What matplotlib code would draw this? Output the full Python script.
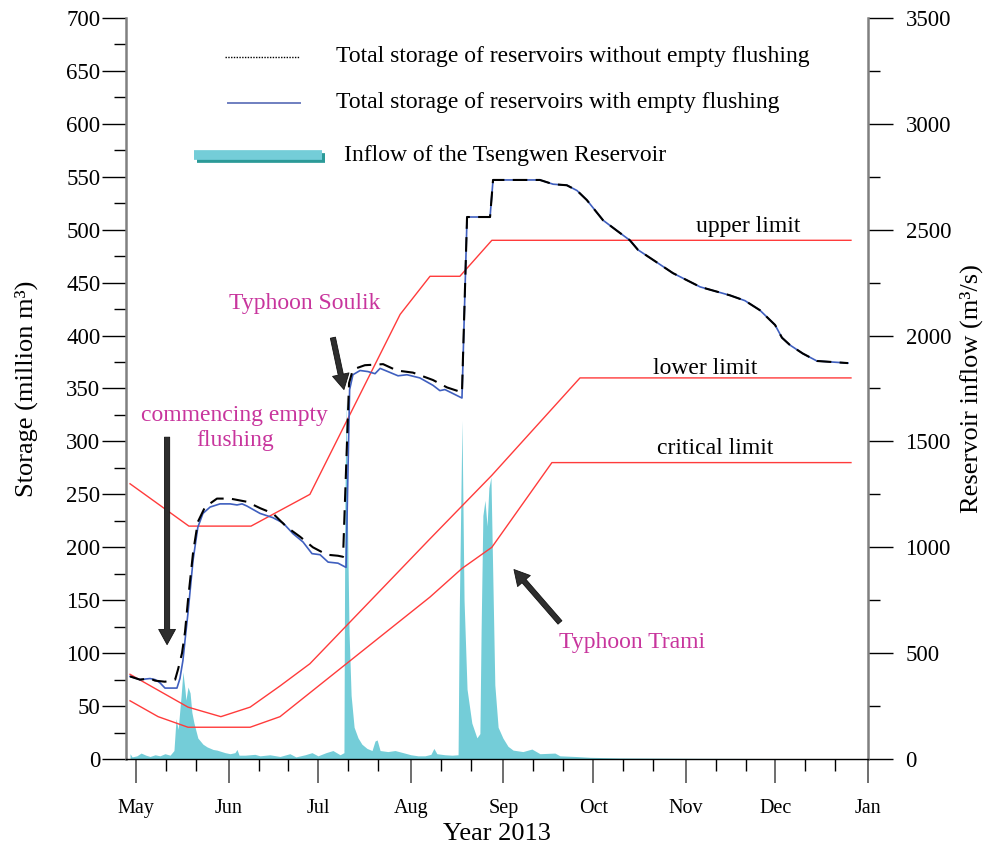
import matplotlib.pyplot as plt
from matplotlib.ticker import MultipleLocator, FixedLocator

plt.rcParams['font.family'] = 'Liberation Serif'

# x values are days counted from 1 May 2013
month_days = [0, 31, 61, 92, 123, 153, 184, 214, 245]
month_labels = ['May', 'Jun', 'Jul', 'Aug', 'Sep', 'Oct', 'Nov', 'Dec', 'Jan']

# Total storage after Typhoon Trami (same for both operations), million m3
late_day = [110.8, 118.5, 119.5, 135.2, 139.6, 144.2, 147.6, 150.9, 156.3, 161.0,
            165.3, 168.0, 174.4, 179.7, 188.8, 198.8, 203.8, 208.8, 213.9, 216.2,
            218.9, 223.2, 227.9, 238.3]
late_storage = [512, 512, 547, 547, 543, 542, 537, 528, 509, 499,
                490, 481, 469, 459, 446, 438, 433, 424, 410, 398,
                391, 383, 376, 374]

# Total storage with empty flushing, up to Typhoon Trami
flush_day = [-2.0, 1.3, 4.7, 6.4, 8.0, 9.7, 13.7, 14.7, 15.7, 16.4,
             17.4, 19.1, 20.7, 22.4, 24.8, 28.1, 31.5, 33.8, 35.5, 37.1,
             41.5, 45.8, 49.2, 52.5, 55.9, 58.9, 61.6, 64.3, 67.6, 70.3,
             71.5, 72.6, 75.0, 77.6, 80.0, 81.7, 84.3, 87.7, 90.7, 95.0,
             99.4, 101.7, 103.4, 109.1]
flush_storage = [78, 75, 76, 75, 72, 67, 67, 76, 93, 112,
                 138, 188, 219, 232, 238, 241, 241, 240, 241, 239,
                 232, 228, 223, 213, 205, 194, 193, 186, 185, 181,
                 349, 363, 367, 366, 364, 369, 366, 362, 363, 360,
                 353, 348, 349, 341]

# Total storage without empty flushing, up to Typhoon Trami
noflush_day = [-2.0, 1.3, 4.7, 6.4, 9.7, 13.1, 14.1, 15.4, 16.4, 17.4,
               19.1, 20.7, 23.1, 27.1, 31.5, 37.1, 41.5, 45.8, 50.5, 54.9,
               59.2, 63.9, 67.6, 69.3, 71.3, 72.6, 76.6, 82.7, 87.3, 92.7,
               99.4, 104.1, 108.4, 109.1]
noflush_storage = [78, 75, 76, 74, 73, 75, 85, 100, 120, 150,
                   195, 224, 238, 246, 246, 243, 237, 232, 219, 210,
                   200, 193, 192, 191, 355, 368, 372, 373, 367, 365,
                   358, 351, 347, 346]

# Rule curves, million m3
upper_day = [-2.0, 17.7, 38.5, 58.2, 88.4, 98.4, 108.4, 119.1, 239.3]
upper_val = [260, 220, 220, 250, 420, 456, 456, 490, 490]
lower_day = [-2.0, 17.4, 28.4, 38.2, 48.2, 58.2, 98.4, 119.1, 148.6, 239.3]
lower_val = [80, 49, 40, 49, 69, 90, 208, 268, 360, 360]
critical_day = [-2.0, 7.4, 17.4, 38.2, 48.2, 98.4, 109.1, 119.1, 139.2, 239.3]
critical_val = [55, 40, 30, 30, 40, 153, 180, 200, 280, 280]

# Inflow of the Tsengwen Reservoir, m3/s
inflow_day = [-2.0, -1.3, 0.3, 1.7, 3.3, 4.7, 6.4, 8.0, 9.7, 11.4,
              12.7, 13.4, 14.1, 15.1, 15.7, 16.4, 16.7, 17.4, 18.1, 18.7,
              19.4, 20.7, 22.4, 23.8, 25.8, 27.1, 29.8, 31.5, 33.1, 33.8,
              34.5, 36.5, 39.8, 41.5, 44.8, 48.2, 51.5, 53.5, 56.6, 58.9,
              60.9, 63.6, 65.9, 68.3, 69.6, 69.9, 70.3, 70.6, 71.3, 72.0,
              73.0, 74.3, 75.6, 77.3, 79.0, 80.0, 80.7, 81.7, 84.3, 86.7,
              89.4, 92.0, 94.4, 96.7, 98.7, 99.7, 100.7, 103.4, 105.8, 107.8,
              108.2, 109.1, 109.8, 110.8, 112.4, 114.1, 115.1, 115.5, 116.1, 116.8,
              117.5, 118.1, 118.8, 119.5, 120.1, 121.2, 122.8, 124.5, 126.2, 129.5,
              132.5, 135.2, 140.2, 141.9, 146.9, 151.9, 162.0, 188.8, 222.2, 238.3]
inflow_q = [25, 10, 15, 28, 18, 12, 20, 15, 25, 18,
            40, 190, 140, 300, 411, 326, 278, 340, 312, 220,
            170, 99, 70, 57, 45, 42, 30, 25, 30, 45,
            18, 18, 22, 15, 20, 12, 25, 10, 20, 30,
            15, 30, 40, 20, 30, 1200, 1700, 1300, 600, 300,
            150, 100, 70, 50, 40, 85, 90, 40, 35, 40,
            30, 20, 15, 15, 22, 50, 25, 20, 18, 20,
            700, 1600, 750, 330, 170, 100, 120, 600, 1150, 1222,
            1100, 1280, 1331, 800, 350, 150, 99, 60, 42, 35,
            47, 25, 28, 15, 12, 8, 5, 3, 2, 2]

red = '#ff3b3b'
magenta = '#c8359d'
teal = '#74cdd8'

fig = plt.figure(figsize=(9.84, 8.47), dpi=100)
ax = fig.add_axes([126 / 984, 1 - 759 / 847, 742 / 984, 741 / 847])
ax2 = ax.twinx()

# inflow on the right axis, drawn underneath the storage curves
ax2.fill_between(inflow_day, 0, inflow_q, color=teal, lw=0)
ax2.set_ylim(0, 3500)
ax.set_zorder(ax2.get_zorder() + 1)
ax.patch.set_visible(False)

ax.plot(upper_day, upper_val, color=red, lw=1.0)
ax.plot(lower_day, lower_val, color=red, lw=1.0)
ax.plot(critical_day, critical_val, color=red, lw=1.0)

ax.plot(flush_day + late_day, flush_storage + late_storage, color='#3f5fbf', lw=1.2)
ax.plot(noflush_day + late_day, noflush_storage + late_storage, color='black', lw=1.5,
        dashes=(7, 4))

ax.set_xlim(-3.35, 245)
ax.set_ylim(0, 700)

# axes and ticks
for a in (ax, ax2):
    a.spines['top'].set_visible(False)
ax.spines['right'].set_visible(False)
ax2.spines['left'].set_visible(False)
ax2.spines['bottom'].set_visible(False)
ax.spines['left'].set_color('#808080')
ax.spines['left'].set_linewidth(1.8)
ax2.spines['right'].set_color('#808080')
ax2.spines['right'].set_linewidth(1.8)
ax.spines['bottom'].set_linewidth(1.0)

ax.yaxis.set_major_locator(MultipleLocator(50))
ax.yaxis.set_minor_locator(MultipleLocator(25))
ax2.yaxis.set_major_locator(MultipleLocator(500))
ax2.yaxis.set_minor_locator(MultipleLocator(250))
ax.xaxis.set_major_locator(FixedLocator(month_days))
ax.xaxis.set_minor_locator(FixedLocator([m + k for m in month_days[:-1] for k in (10, 20)]))
ax.set_xticklabels(month_labels)

ax.tick_params(axis='y', which='major', length=17, width=1, labelsize=16.5, pad=1.5)
ax.tick_params(axis='y', which='minor', length=8.5, width=1)
ax2.tick_params(axis='y', which='major', length=18, width=1, labelsize=16.5, pad=9)
ax2.tick_params(axis='y', which='minor', length=8.5, width=1)
ax.tick_params(axis='x', which='major', length=17.5, width=1.2, color='#555555',
               labelsize=14.5, pad=11.5)
ax.tick_params(axis='x', which='minor', length=8.5, width=1)

ax.set_ylabel('Storage (million m³)', fontsize=19)
ax.yaxis.set_label_coords(-0.118, 0.5)
ax2.set_ylabel('Reservoir inflow (m³/s)', fontsize=19)
ax2.yaxis.set_label_coords(1.124, 0.5)
ax.set_xlabel('Year 2013', fontsize=19)
ax.xaxis.set_label_coords(0.5, -0.086)

# rule curve names
ax.text(204.8, 503, 'upper limit', fontsize=17, ha='center', va='center')
ax.text(190.4, 369, 'lower limit', fontsize=17, ha='center', va='center')
ax.text(193.8, 293, 'critical limit', fontsize=17, ha='center', va='center')

# events
ax.text(33.1, 313, 'commencing empty\nflushing', fontsize=17, color=magenta,
        ha='center', va='center', linespacing=1.25)
ax.text(56.6, 430, 'Typhoon Soulik', fontsize=17, color=magenta, ha='center', va='center')
ax.text(166.0, 110, 'Typhoon Trami', fontsize=17, color=magenta, ha='center', va='center')

arrow = dict(arrowstyle='simple,head_length=1.0,head_width=1.1,tail_width=0.34',
             fc='#2e2e2e', ec='#111111', lw=0.6, mutation_scale=11,
             shrinkA=0, shrinkB=0)
ax.annotate('', xy=(10.4, 108), xytext=(10.4, 304), arrowprops=arrow)
ax.annotate('', xy=(69.6, 349), xytext=(65.9, 398), arrowprops=arrow)
ax.annotate('', xy=(126.5, 179), xytext=(141.9, 129), arrowprops=arrow)

# legend
tr = ax.transAxes
ax.plot([0.1334, 0.2345], [0.9474, 0.9474], transform=tr, color='black', lw=1.0,
        ls=(0, (1, 1)))
ax.text(0.283, 0.9474, 'Total storage of reservoirs without empty flushing',
        transform=tr, fontsize=17, va='center')
ax.plot([0.1375, 0.2345], [0.8853, 0.8853], transform=tr, color='#6f7fc0', lw=1.4)
ax.text(0.283, 0.8853, 'Total storage of reservoirs with empty flushing',
        transform=tr, fontsize=17, va='center')
ax.plot([0.0957, 0.2682], [0.8110, 0.8110], transform=tr, color='#2b9a98', lw=7,
        solid_capstyle='butt')
ax.plot([0.0916, 0.2642], [0.8151, 0.8151], transform=tr, color=teal, lw=7,
        solid_capstyle='butt')
ax.text(0.2938, 0.8151, 'Inflow of the Tsengwen Reservoir',
        transform=tr, fontsize=17, va='center')

fig.savefig('out.png', dpi=100)
